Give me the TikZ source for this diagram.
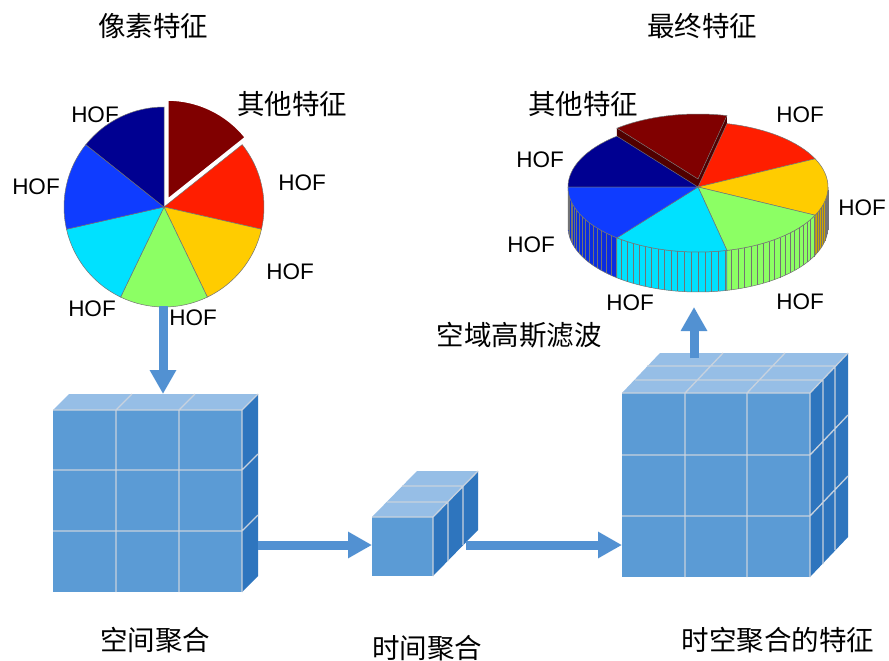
\documentclass[tikz,border=0pt]{standalone}
\usepackage{fontspec}
\setmainfont{Liberation Sans}
\newfontfamily\cjk{Noto Sans CJK SC}
\usetikzlibrary{arrows.meta}
\definecolor{jdr}{RGB}{128,0,0}
\definecolor{jdrs}{RGB}{80,0,0}
\definecolor{jr}{RGB}{255,30,0}
\definecolor{jy}{RGB}{255,204,0}
\definecolor{jys}{RGB}{205,165,0}
\definecolor{jg}{RGB}{140,255,100}
\definecolor{jc}{RGB}{0,225,255}
\definecolor{jb}{RGB}{15,60,255}
\definecolor{jbs}{RGB}{10,45,225}
\definecolor{jn}{RGB}{0,0,145}
\definecolor{cfront}{RGB}{91,155,213}
\definecolor{ctop}{RGB}{150,190,230}
\definecolor{cside}{RGB}{46,117,190}
\definecolor{cgrid}{RGB}{200,210,222}
\definecolor{carrow}{RGB}{82,145,210}
\begin{document}
\begin{tikzpicture}[x=1pt,y=-1pt,
  hof/.style={font=\fontsize{22.5}{22.5}\selectfont},
  cjklab/.style={font=\cjk\fontsize{27.5}{27.5}\selectfont},
  slice/.style={draw=black!55, line width=0.5pt},
  stripe/.style={draw=black!55, line width=0.4pt},
  frontf/.style={fill=cfront},
  topf/.style={fill=ctop},
  sidef/.style={fill=cside},
  gridl/.style={draw=cgrid, line width=1.3pt},
  bigarrow/.style={draw=carrow, line width=9pt, -{Triangle[length=24pt,width=25pt]}}]
\useasboundingbox (0,0) rectangle (889,661);
\fill[white] (0,0) rectangle (889,661);

% ---------- left pie ----------
\coordinate (pL) at (164,207);
\foreach \c [count=\i from 1] in {jr,jy,jg,jc,jb,jn}{
  \pgfmathsetmacro\a{90-\i*360/7}
  \pgfmathsetmacro\b{90-(\i+1)*360/7}
  \filldraw[slice, fill=\c] (pL) -- ++(-\a:100) arc[start angle=-\a, end angle=-\b, radius=100] -- cycle;
}
\filldraw[fill=jdr, draw=white, line width=2pt] ([shift={(3.5,-7.2)}]pL) -- ++(-90:100) arc[start angle=-90, end angle=-38.57, radius=100] -- cycle;

% ---------- right pie (3D) ----------
\coordinate (pR) at (698,187);
\coordinate (pRx) at (698,179);
\coordinate (pRxd) at (698,219);
% sides
\foreach \a/\b/\c in {180/231.43/jbs, 231.43/282.86/jc, 282.86/334.29/jg, 334.29/360/jys}{
  \filldraw[slice, fill=\c] (pR) ++(-\a:130 and 65) arc[start angle=-\a, end angle=-\b, x radius=130, y radius=65]
     -- ++(0,40) arc[start angle=-\b, end angle=-\a, x radius=130, y radius=65] -- cycle;
}
\foreach \t in {183,186,...,357}{
  \draw[stripe] (pR) ++(-\t:130 and 65) -- ++(0,40);
}
% exploded slice cut faces
\fill[jdrs] (pRx) -- ++(-128.57:130 and 65) -- ++(0,40) -- (pRxd) -- cycle;
\fill[jdrs] (pRx) -- ++(-77.14:130 and 65) -- ++(0,40) -- (pRxd) -- cycle;
% top sectors
\foreach \a/\b/\c in {180/128.57/jn, 77.14/25.71/jr, 25.71/-25.71/jy, -25.71/-77.14/jg, -77.14/-128.57/jc, -128.57/-180/jb}{
  \filldraw[slice, fill=\c] (pR) -- ++(-\a:130 and 65) arc[start angle=-\a, end angle=-\b, x radius=130, y radius=65] -- cycle;
}
\filldraw[slice, fill=jdr] (pRx) -- ++(-128.57:130 and 65) arc[start angle=-128.57, end angle=-77.14, x radius=130, y radius=65] -- cycle;

% ---------- left cube ----------
\fill[frontf] (53,410) rectangle (242,592);
\fill[topf] (53,410) -- (242,410) -- (258,394) -- (69,394) -- cycle;
\fill[sidef] (242,410) -- (258,394) -- (258,576) -- (242,592) -- cycle;
\draw[gridl] (116,410) -- (116,592) (179,410) -- (179,592)
  (53,470) -- (242,470) (53,531) -- (242,531)
  (53,410) -- (242,410) -- (242,592)
  (116,410) -- (132,394) (179,410) -- (195,394) (242,410) -- (258,394)
  (242,470) -- (258,454) (242,531) -- (258,515);
\coordinate (cLtop) at (163,394);
\coordinate (cLright) at (258,545);

% ---------- small cube ----------
\fill[frontf] (372,517) rectangle (433,576);
\fill[topf] (372,517) -- (433,517) -- (478,471) -- (417,471) -- cycle;
\fill[sidef] (433,517) -- (478,471) -- (478,530) -- (433,576) -- cycle;
\draw[gridl] (372,517) -- (433,517) -- (433,576) (433,517) -- (478,471)
  (387,502) -- (448,502) (402,486) -- (463,486)
  (448,502) -- (448,561) (463,486) -- (463,545);
\coordinate (cSleft) at (372,545);
\coordinate (cSright) at (466,545);

% ---------- big cube ----------
\fill[frontf] (622,393) rectangle (810,577);
\fill[topf] (622,393) -- (810,393) -- (848,353) -- (660,353) -- cycle;
\fill[sidef] (810,393) -- (848,353) -- (848,537) -- (810,577) -- cycle;
\draw[gridl] (685,393) -- (685,577) (747,393) -- (747,577)
  (622,455) -- (810,455) (622,516) -- (810,516)
  (622,393) -- (810,393) -- (810,577) (810,393) -- (848,353)
  (685,393) -- (723,353) (747,393) -- (785,353)
  (635,380) -- (823,380) (647,366) -- (835,366)
  (823,380) -- (823,564) (835,366) -- (835,550)
  (810,455) -- (848,415) (810,516) -- (848,476);
\coordinate (cBleft) at (622,545);
\coordinate (cBtop) at (694,358);

% ---------- arrows ----------
\coordinate (pLbot) at (163,306);
\coordinate (pRbot) at (694,307);
\draw[bigarrow] (pLbot) -- (cLtop);
\draw[bigarrow] (cLright) -- (cSleft);
\draw[bigarrow] (cSright) -- (cBleft);
\draw[bigarrow] (cBtop) -- (pRbot);

% ---------- labels ----------
\node[cjklab] (t1) at (153,26) {像素特征};
\node[cjklab] (t2) at (702,26) {最终特征};
\node[cjklab] (l1o) at (292,104) {其他特征};
\node[hof] (l1a) at (95,115) {HOF};
\node[hof] (l1b) at (302,183) {HOF};
\node[hof] (l1c) at (36,187) {HOF};
\node[hof] (l1d) at (290,272) {HOF};
\node[hof] (l1e) at (92,309) {HOF};
\node[hof] (l1f) at (193,318) {HOF};
\node[cjklab] (l2o) at (583,104) {其他特征};
\node[hof] (l2a) at (800,115) {HOF};
\node[hof] (l2b) at (540,160) {HOF};
\node[hof] (l2c) at (862,208) {HOF};
\node[hof] (l2d) at (531,245) {HOF};
\node[hof] (l2e) at (630,303) {HOF};
\node[hof] (l2f) at (800,302) {HOF};
\node[cjklab] (gs) at (519,335) {空域高斯滤波};
\node[cjklab] (b1) at (155,640) {空间聚合};
\node[cjklab] (b2) at (427,648) {时间聚合};
\node[cjklab] (b3) at (778,640) {时空聚合的特征};
\end{tikzpicture}
\end{document}
